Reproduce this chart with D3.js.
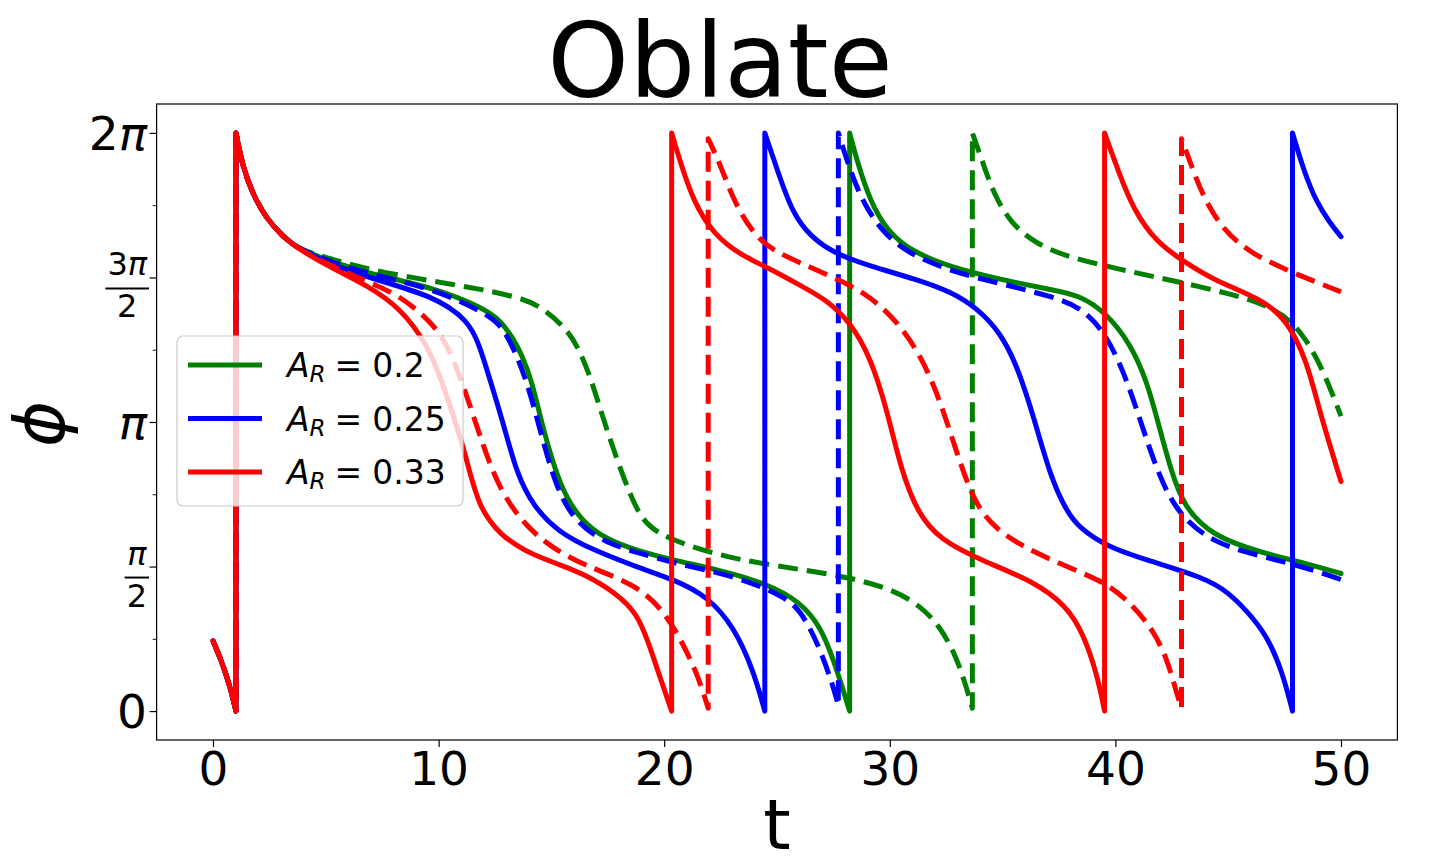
<!DOCTYPE html>
<html>
<head>
<meta charset="utf-8">
<script src="https://cdn.jsdelivr.net/npm/d3@7"></script>
<style>
  body { margin: 0; background: #fff; }
  svg { display: block; font-family: "DejaVu Sans", sans-serif; }
</style>
</head>
<body>
<div id="chart"></div>
<script>
// ---- data (t, phi in units of pi) ----
const tTicks = [0, 10, 20, 30, 40, 50];
const phiTicks = [0, 0.5, 1, 1.5, 2];
const phiMinorTicks = [0.25, 0.75, 1.25, 1.75];
const legendValues = ["0.2", "0.25", "0.33"];

// shared start of every run
const startPts = [[0, 0.243], [0.35, 0.179], [0.72, 0.095], [1.02, 0], [1.02, 2],
  [1.3, 1.888], [1.75, 1.79], [2.35, 1.705], [3.1, 1.641], [3.85, 1.595]];

const ar020Solid = [[5.37, 1.552], [6.85, 1.514], [9.8, 1.465], [12.0, 1.394], [12.75, 1.35],
  [13.3, 1.29], [13.7, 1.23], [14.13, 1.145], [14.64, 0.972], [15.38, 0.776], [16.27, 0.661],
  [17.45, 0.592], [18.93, 0.552], [20.5, 0.52], [22.35, 0.49], [24.6, 0.44], [26.04, 0.377],
  [26.93, 0.292], [27.5, 0.179], [27.96, 0.066], [28.22, 0], [28.22, 2], [28.55, 1.902],
  [29.14, 1.761], [29.88, 1.662], [30.91, 1.592], [32.7, 1.535], [34.9, 1.493], [37.1, 1.458],
  [38.43, 1.439], [39.61, 1.376], [40.65, 1.272], [41.39, 1.145], [41.98, 0.972], [42.42, 0.845],
  [43.01, 0.707], [44.34, 0.603], [46.56, 0.546], [48.5, 0.51], [50, 0.476]];

const ar020Dashed = [[5.37, 1.561], [6.85, 1.528], [9.8, 1.486], [12.0, 1.458], [13.64, 1.429],
  [14.5, 1.401], [15.7, 1.323], [16.3, 1.24], [16.78, 1.145], [17.45, 0.972], [18.34, 0.776],
  [18.93, 0.672], [19.6, 0.62], [20.9, 0.575], [23.1, 0.525], [26.04, 0.49], [28.25, 0.462],
  [30.2, 0.419], [31.36, 0.363], [32.25, 0.292], [33.0, 0.179], [33.4, 0.08], [33.66, 0.01],
  [33.66, 2], [34.1, 1.902], [34.6, 1.79], [35.34, 1.69], [36.4, 1.62], [37.85, 1.571],
  [40.2, 1.528], [42.42, 1.491], [45.08, 1.445], [47.15, 1.394], [48.3, 1.309], [49.2, 1.182],
  [50, 1.02]];

const ar025Solid = [[5.37, 1.542], [6.85, 1.5], [9.8, 1.436], [11.3, 1.352], [11.8, 1.27],
  [12.28, 1.145], [12.87, 0.995], [13.46, 0.822], [14.2, 0.707], [15.38, 0.615], [16.86, 0.557],
  [18.93, 0.494], [20.43, 0.455], [21.9, 0.398], [23.1, 0.292], [23.97, 0.137], [24.46, 0],
  [24.46, 2], [25.0, 1.874], [25.7, 1.719], [26.5, 1.641], [27.5, 1.585], [29.0, 1.542],
  [31.2, 1.493], [32.7, 1.451], [33.87, 1.394], [34.9, 1.309], [35.64, 1.196], [36.4, 1.013],
  [37.1, 0.815], [37.85, 0.688], [38.43, 0.632], [39.61, 0.569], [41.39, 0.522], [44.05, 0.459],
  [45.0, 0.41], [45.8, 0.349], [46.7, 0.264], [47.4, 0.137], [47.85, 0], [47.85, 2],
  [48.33, 1.874], [48.9, 1.761], [49.5, 1.69], [50, 1.641]];

const ar025Dashed = [[5.37, 1.55], [6.85, 1.514], [9.8, 1.46], [12.0, 1.38], [12.75, 1.337],
  [13.3, 1.26], [13.9, 1.145], [14.5, 0.972], [15.23, 0.765], [16.12, 0.649], [17.45, 0.58],
  [18.93, 0.546], [20.5, 0.51], [23.1, 0.469], [25.3, 0.398], [26.04, 0.349], [26.8, 0.236],
  [27.4, 0.109], [27.72, 0.02], [27.72, 2], [28.11, 1.902], [28.7, 1.775], [29.6, 1.662],
  [30.77, 1.585], [32.7, 1.521], [34.9, 1.479], [37.1, 1.436], [38.43, 1.399], [39.47, 1.318],
  [40.35, 1.18], [41.1, 1.007], [41.83, 0.834], [42.72, 0.684], [44.34, 0.58], [46.56, 0.534],
  [48.5, 0.495], [50, 0.455]];

const ar033Solid = [[5.37, 1.528], [6.85, 1.472], [8.32, 1.394], [9.5, 1.267], [10.14, 1.145],
  [11.1, 0.915], [11.39, 0.82], [11.84, 0.707], [12.3, 0.655], [12.72, 0.615], [13.4, 0.575],
  [14.2, 0.54], [15.3, 0.508], [16.41, 0.476], [17.9, 0.407], [18.78, 0.338], [19.25, 0.25],
  [19.85, 0.109], [20.33, 0], [20.33, 2], [20.7, 1.902], [21.3, 1.761], [22.2, 1.648],
  [23.38, 1.578], [24.57, 1.535], [26.04, 1.472], [27.2, 1.422], [28.25, 1.345], [29.14, 1.225],
  [29.88, 1.041], [30.47, 0.843], [31.2, 0.688], [32.25, 0.59], [34.16, 0.518], [36.4, 0.448],
  [37.85, 0.363], [38.6, 0.264], [39.2, 0.123], [39.52, 0], [39.52, 2], [40.1, 1.874],
  [40.8, 1.733], [41.84, 1.62], [43.0, 1.557], [44.34, 1.491], [46.56, 1.422], [47.59, 1.353],
  [48.48, 1.215], [49.07, 1.03], [50, 0.794]];

const ar033Dashed = [[5.37, 1.535], [6.85, 1.486], [8.32, 1.436], [9.8, 1.338], [10.5, 1.25],
  [11.17, 1.111], [11.98, 0.915], [12.72, 0.765], [13.75, 0.649], [14.94, 0.569], [16.41, 0.505],
  [18.63, 0.442], [19.85, 0.36], [20.73, 0.25], [21.5, 0.123], [21.95, 0.01], [21.95, 1.98],
  [22.5, 1.888], [23.1, 1.761], [23.97, 1.648], [24.86, 1.592], [26.04, 1.55], [27.5, 1.5],
  [29.0, 1.444], [30.47, 1.338], [31.5, 1.21], [32.25, 1.069], [33.0, 0.886], [33.7, 0.73],
  [34.6, 0.631], [36.4, 0.547], [38.6, 0.476], [39.77, 0.434], [40.8, 0.363], [41.69, 0.278],
  [42.3, 0.179], [42.7, 0.066], [42.93, 0.01], [42.93, 1.98], [43.3, 1.902], [43.9, 1.775],
  [44.8, 1.662], [45.97, 1.585], [47.7, 1.521], [50, 1.45]];

// ---- styles ----
const colors = ["#008000", "#0000ff", "#ff0000"];
const series = [
  { pts: ar020Solid, color: colors[0], dashed: false },
  { pts: ar020Dashed, color: colors[0], dashed: true },
  { pts: ar025Solid, color: colors[1], dashed: false },
  { pts: ar025Dashed, color: colors[1], dashed: true },
  { pts: ar033Solid, color: colors[2], dashed: false },
  { pts: ar033Dashed, color: colors[2], dashed: true }
];

const W = 1440, H = 856;
const svg = d3.select("#chart").append("svg")
  .attr("width", W)
  .attr("height", H)
  .attr("viewBox", `0 0 ${W} ${H}`);

svg.append("rect").attr("width", W).attr("height", H).attr("fill", "#fff");

const plotLeft = 156.6, plotRight = 1397.4, plotTop = 104, plotBottom = 740;

const x = d3.scaleLinear().domain([-2.5, 52.5]).range([plotLeft, plotRight]);
const y = d3.scaleLinear().domain([-0.1 * Math.PI, 2.1 * Math.PI]).range([plotBottom, plotTop]);

// clip to the axes box
svg.append("defs").append("clipPath").attr("id", "plot-clip")
  .append("rect")
  .attr("x", plotLeft).attr("y", plotTop)
  .attr("width", plotRight - plotLeft).attr("height", plotBottom - plotTop);

// basis smoothing irons out reading noise between the traced points
const line = d3.line()
  .x(d => x(d[0]))
  .y(d => y(d[1] * Math.PI))
  .curve(d3.curveBasis);

// split at the wrap-around jumps, draw pieces smooth and the jumps straight
function seriesPath(pts) {
  const segs = [[]];
  pts.forEach((p, i) => {
    if (i > 0 && p[1] - pts[i - 1][1] > 1) segs.push([]);
    segs[segs.length - 1].push(p);
  });
  return segs.map((s, k) => {
    const d = line(s);
    return k ? "L" + d.slice(1) : d;
  }).join("");
}

const plot = svg.append("g").attr("clip-path", "url(#plot-clip)");
series.forEach(s => {
  plot.append("path")
    .attr("d", seriesPath(startPts.concat(s.pts)))
    .attr("fill", "none")
    .attr("stroke", s.color)
    .attr("stroke-width", 5)
    .attr("stroke-linejoin", "round")
    .attr("stroke-linecap", s.dashed ? "butt" : "round")
    .attr("stroke-dasharray", s.dashed ? "20,9" : null);
});

// frame
svg.append("rect")
  .attr("x", plotLeft).attr("y", plotTop)
  .attr("width", plotRight - plotLeft).attr("height", plotBottom - plotTop)
  .attr("fill", "none")
  .attr("stroke", "#000")
  .attr("stroke-width", 1.2);

// x axis
const xAxis = svg.append("g")
  .attr("transform", `translate(0,${plotBottom})`)
  .call(d3.axisBottom(x).tickValues(tTicks).tickSize(7).tickPadding(5));
xAxis.select(".domain").remove();
xAxis.selectAll(".tick line").attr("stroke-width", 1.2);
xAxis.selectAll(".tick text")
  .style("font-size", "47px")
  .style("font-family", "DejaVu Sans")
  .attr("fill", "#000");

// y axis ticks (labels drawn by hand)
const yAxis = svg.append("g")
  .attr("transform", `translate(${plotLeft},0)`)
  .call(d3.axisLeft(y).tickValues(phiTicks.map(v => v * Math.PI)).tickSize(7).tickFormat(""));
yAxis.select(".domain").remove();
yAxis.selectAll(".tick line").attr("stroke-width", 1.2);

const yMinor = svg.append("g")
  .attr("transform", `translate(${plotLeft},0)`)
  .call(d3.axisLeft(y).tickValues(phiMinorTicks.map(v => v * Math.PI)).tickSize(4).tickFormat(""));
yMinor.select(".domain").remove();
yMinor.selectAll(".tick line").attr("stroke-width", 0.9);

const labelRight = 147;
function plainLabel(v, parts) {
  const ty = y(v * Math.PI);
  const t = svg.append("text")
    .attr("x", labelRight)
    .attr("y", ty + 17)
    .attr("text-anchor", "end")
    .style("font-size", "47px");
  parts.forEach(p => t.append("tspan").style("font-style", p.it ? "italic" : "normal").text(p.s));
}
function fracLabel(v, numParts, den) {
  const ty = y(v * Math.PI);
  const g = svg.append("g");
  const num = g.append("text")
    .attr("text-anchor", "middle")
    .attr("y", ty - 2)
    .style("font-size", "32px");
  numParts.forEach(p => num.append("tspan").style("font-style", p.it ? "italic" : "normal").text(p.s));
  const dn = g.append("text")
    .attr("text-anchor", "middle")
    .attr("y", ty + 40)
    .style("font-size", "32px")
    .text(den);
  const w = Math.max(num.node().getComputedTextLength(), dn.node().getComputedTextLength()) + 4;
  const cx = labelRight + 2 - w / 2;
  num.attr("x", cx);
  dn.attr("x", cx);
  g.append("line")
    .attr("x1", labelRight + 2 - w).attr("x2", labelRight + 2)
    .attr("y1", ty + 11).attr("y2", ty + 11)
    .attr("stroke", "#000").attr("stroke-width", 2);
}
plainLabel(phiTicks[0], [{ s: "0" }]);
fracLabel(phiTicks[1], [{ s: "π", it: true }], "2");
plainLabel(phiTicks[2], [{ s: "π", it: true }]);
fracLabel(phiTicks[3], [{ s: "3" }, { s: "π", it: true }], "2");
plainLabel(phiTicks[4], [{ s: "2" }, { s: "π", it: true }]);

// axis titles
svg.append("text")
  .attr("x", (plotLeft + plotRight) / 2)
  .attr("y", 849)
  .attr("text-anchor", "middle")
  .style("font-size", "70px")
  .text("t");

svg.append("text")
  .attr("transform", "translate(64,424) rotate(-90)")
  .attr("text-anchor", "middle")
  .style("font-size", "70px")
  .style("font-style", "italic")
  .text("ϕ");

svg.append("text")
  .attr("x", W / 2)
  .attr("y", 97)
  .attr("text-anchor", "middle")
  .style("font-size", "104px")
  .text("Oblate");

// legend
const legend = svg.append("g").attr("transform", "translate(177,336)");
legend.append("rect")
  .attr("width", 286).attr("height", 170)
  .attr("rx", 6)
  .attr("fill", "#fff").attr("fill-opacity", 0.8)
  .attr("stroke", "#cccccc").attr("stroke-width", 1.2);
legendValues.forEach((val, i) => {
  const ry = 29 + i * 53.5;
  legend.append("line")
    .attr("x1", 11).attr("x2", 85)
    .attr("y1", ry).attr("y2", ry)
    .attr("stroke", colors[i]).attr("stroke-width", 5);
  const t = legend.append("text")
    .attr("x", 110).attr("y", ry + 12)
    .style("font-size", "33px");
  t.append("tspan").style("font-style", "italic").text("A");
  t.append("tspan").style("font-style", "italic").style("font-size", "23px").attr("dy", 5).text("R");
  t.append("tspan").attr("dy", -5).attr("dx", 9).text("=");
  t.append("tspan").attr("dx", 10).text(val);
});
</script>
</body>
</html>
